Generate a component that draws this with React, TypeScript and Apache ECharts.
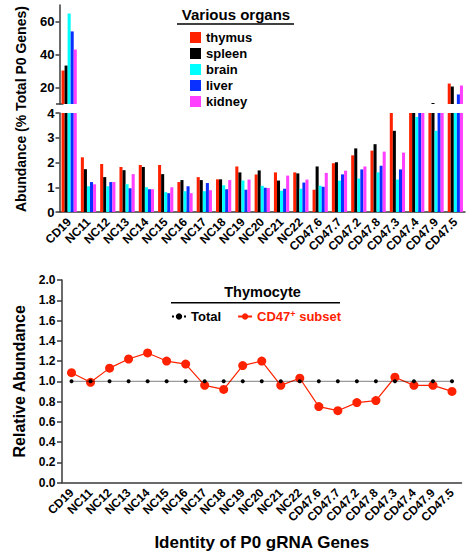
import React, { useEffect, useRef } from 'react';
import * as echarts from 'echarts';

const categories = ['CD19', 'NC11', 'NC12', 'NC13', 'NC14', 'NC15', 'NC16', 'NC17', 'NC18', 'NC19', 'NC20', 'NC21', 'NC22', 'CD47.6', 'CD47.7', 'CD47.2', 'CD47.8', 'CD47.3', 'CD47.4', 'CD47.9', 'CD47.5'];

const thymus = [30.3, 2.21, 1.94, 1.82, 1.90, 1.90, 1.21, 1.41, 1.32, 1.84, 1.52, 1.60, 1.60, 0.90, 1.97, 2.29, 2.48, 6.0, 7.0, 7.0, 22.4];
const spleen = [33.3, 1.73, 1.41, 1.69, 1.82, 1.53, 1.29, 1.29, 1.32, 1.60, 1.68, 1.27, 1.56, 1.84, 2.01, 2.57, 2.74, 3.28, 7.0, 10.6, 20.6];
const brain = [64.8, 1.04, 1.04, 1.12, 1.00, 0.80, 0.84, 0.84, 1.08, 1.27, 1.06, 0.86, 0.94, 1.06, 1.27, 1.35, 1.60, 1.31, 3.84, 3.28, 6.0];
const liver = [54.0, 1.21, 1.21, 0.96, 0.92, 0.76, 1.04, 1.17, 0.92, 0.90, 0.98, 0.94, 1.19, 1.02, 1.52, 1.72, 1.87, 1.72, 7.0, 7.0, 15.8];
const kidney = [43.0, 1.12, 1.21, 1.53, 0.92, 1.00, 0.76, 0.88, 1.29, 1.31, 0.97, 1.47, 1.31, 1.58, 1.67, 1.84, 2.44, 2.40, 7.0, 7.0, 21.2];

const totalRel = [1.0, 1.0, 1.0, 1.0, 1.0, 1.0, 1.0, 1.0, 1.0, 1.0, 1.0, 1.0, 1.0, 1.0, 1.0, 1.0, 1.0, 1.0, 1.0, 1.0, 1.0];
const cd47Rel = [1.085, 0.99, 1.13, 1.22, 1.28, 1.20, 1.17, 0.96, 0.92, 1.155, 1.20, 0.96, 1.03, 0.75, 0.71, 0.79, 0.81, 1.04, 0.96, 0.96, 0.90];

const upperTicks = [20, 40, 60];

const organNames = ['thymus', 'spleen', 'brain', 'liver', 'kidney'];
const organData = [thymus, spleen, brain, liver, kidney];
const organColors = ['#ff2200', '#000000', '#00ffff', '#0a30ff', '#ff40ff'];

const FONT = "'Liberation Sans', Arial, Helvetica, sans-serif";
const AXIS = '#3a3a3a';
const RED = '#ff2200';

function buildOption(): any {
  const axisLine = { show: true, lineStyle: { color: AXIS, width: 1.5 } };
  const tickStyle = { color: AXIS, width: 1.5 };
  const yLabel = (size: number) => ({ fontFamily: FONT, fontWeight: 'bold', fontSize: size, color: '#000' });
  const xLabel = { rotate: 45, interval: 0, margin: 8, fontFamily: FONT, fontWeight: 'bold', fontSize: 12, color: '#000' };

  const series: any[] = [];
  organNames.forEach((name, i) => {
    [0, 1].forEach((g) => {
      series.push({
        type: 'bar',
        name,
        xAxisIndex: g,
        yAxisIndex: g,
        data: organData[i],
        itemStyle: { color: organColors[i] },
        barGap: '0%',
        barCategoryGap: '21%',
        clip: true,
      });
    });
  });
  series.push({
    type: 'line',
    name: 'CD47+ subset',
    xAxisIndex: 2,
    yAxisIndex: 2,
    data: cd47Rel,
    symbol: 'circle',
    symbolSize: 9,
    itemStyle: { color: RED },
    lineStyle: { color: RED, width: 1.2 },
    z: 2,
  });
  series.push({
    type: 'line',
    name: 'Total',
    xAxisIndex: 2,
    yAxisIndex: 2,
    data: totalRel,
    symbol: 'circle',
    symbolSize: 4,
    itemStyle: { color: '#000' },
    lineStyle: { color: '#000', width: 1, type: 'dotted' },
    z: 3,
  });

  return {
    animation: false,
    backgroundColor: '#fff',
    grid: [
      { left: 59.5, top: 5, width: 405.5, height: 99 },
      { left: 59.5, top: 113, width: 405.5, height: 99 },
      { left: 62, top: 280, width: 399.5, height: 202.6 },
    ],
    xAxis: [
      { gridIndex: 0, type: 'category', data: categories, show: false },
      {
        gridIndex: 1, type: 'category', data: categories,
        axisLine, axisTick: { alignWithLabel: true, length: 4, lineStyle: tickStyle },
        axisLabel: xLabel,
      },
      {
        gridIndex: 2, type: 'category', data: categories,
        axisLine, axisTick: { alignWithLabel: true, length: 5, lineStyle: tickStyle },
        axisLabel: xLabel,
        name: 'Identity of P0 gRNA Genes', nameLocation: 'middle', nameGap: 51,
        nameTextStyle: { fontFamily: FONT, fontWeight: 'bold', fontSize: 17, color: '#000' },
      },
    ],
    yAxis: [
      {
        gridIndex: 0, type: 'value', min: 10, max: 70,
        axisLine, splitLine: { show: false },
        axisTick: { show: true, length: 4, lineStyle: tickStyle, customValues: upperTicks },
        axisLabel: { ...yLabel(13), margin: 5, customValues: upperTicks },
      },
      {
        gridIndex: 1, type: 'value', min: 0, max: 4, interval: 1,
        axisLine, splitLine: { show: false },
        axisTick: { show: true, length: 4, lineStyle: tickStyle },
        axisLabel: { ...yLabel(13), margin: 5 },
      },
      {
        gridIndex: 2, type: 'value', min: 0, max: 2, interval: 0.2,
        axisLine, splitLine: { show: false },
        axisTick: { show: true, length: 5, lineStyle: tickStyle },
        axisLabel: { ...yLabel(12), margin: 6.5, formatter: (v: number) => v.toFixed(1) },
        name: 'Relative Abundance', nameLocation: 'middle', nameGap: 33,
        nameTextStyle: { fontFamily: FONT, fontWeight: 'bold', fontSize: 16, color: '#000' },
      },
    ],
    legend: [
      {
        data: organNames,
        orient: 'vertical',
        left: 190, top: 31, padding: 0,
        itemWidth: 11, itemHeight: 11, itemGap: 3,
        icon: 'rect',
        textStyle: { fontFamily: FONT, fontWeight: 'bold', fontSize: 13, color: '#000' },
      },
      {
        data: [{ name: 'Total' }, { name: 'CD47+ subset' }],
        orient: 'horizontal',
        left: 171, top: 309, padding: 0,
        itemWidth: 14, itemHeight: 8, itemGap: 16,
        formatter: (name: string) => (name === 'CD47+ subset' ? '{r|CD47}{s|+}{r| subset}' : name),
        textStyle: {
          fontFamily: FONT, fontWeight: 'bold', fontSize: 13, color: '#000',
          rich: {
            r: { fontFamily: FONT, fontWeight: 'bold', fontSize: 13, color: RED },
            s: { fontFamily: FONT, fontWeight: 'bold', fontSize: 9, color: RED, padding: [0, 0, 6, 0] },
          },
        },
      },
    ],
    graphic: [
      {
        type: 'text', x: 236, y: 14,
        style: { text: 'Various organs', font: `bold 15px ${FONT}`, fill: '#000', textAlign: 'center', textVerticalAlign: 'middle', align: 'center', verticalAlign: 'middle' },
      },
      { type: 'line', shape: { x1: 177, y1: 24, x2: 294, y2: 24 }, style: { stroke: '#000', lineWidth: 1.5 } },
      {
        type: 'text', x: 262.5, y: 292,
        style: { text: 'Thymocyte', font: `bold 14.5px ${FONT}`, fill: '#000', textAlign: 'center', textVerticalAlign: 'middle', align: 'center', verticalAlign: 'middle' },
      },
      { type: 'line', shape: { x1: 171, y1: 302.7, x2: 340, y2: 302.7 }, style: { stroke: '#000', lineWidth: 1.5 } },
      { type: 'line', shape: { x1: 56, y1: 104, x2: 63.5, y2: 104 }, style: { stroke: AXIS, lineWidth: 1.5 } },
      {
        type: 'text', x: 21, y: 212, rotation: Math.PI / 2,
        style: { text: 'Abundance (% Total P0 Genes)', font: `bold 14px ${FONT}`, fill: '#000', textAlign: 'left', textVerticalAlign: 'middle', align: 'left', verticalAlign: 'middle' },
      },
    ],
    series,
  };
}

export default function App() {
  const ref = useRef<HTMLDivElement>(null);
  useEffect(() => {
    document.body.style.margin = '0';
    const chart = echarts.init(ref.current as HTMLDivElement, null, { renderer: 'svg' });
    chart.setOption(buildOption());
    return () => chart.dispose();
  }, []);
  return <div ref={ref} style={{ position: 'absolute', left: 0, top: 0, width: 472, height: 556 }} />;
}
